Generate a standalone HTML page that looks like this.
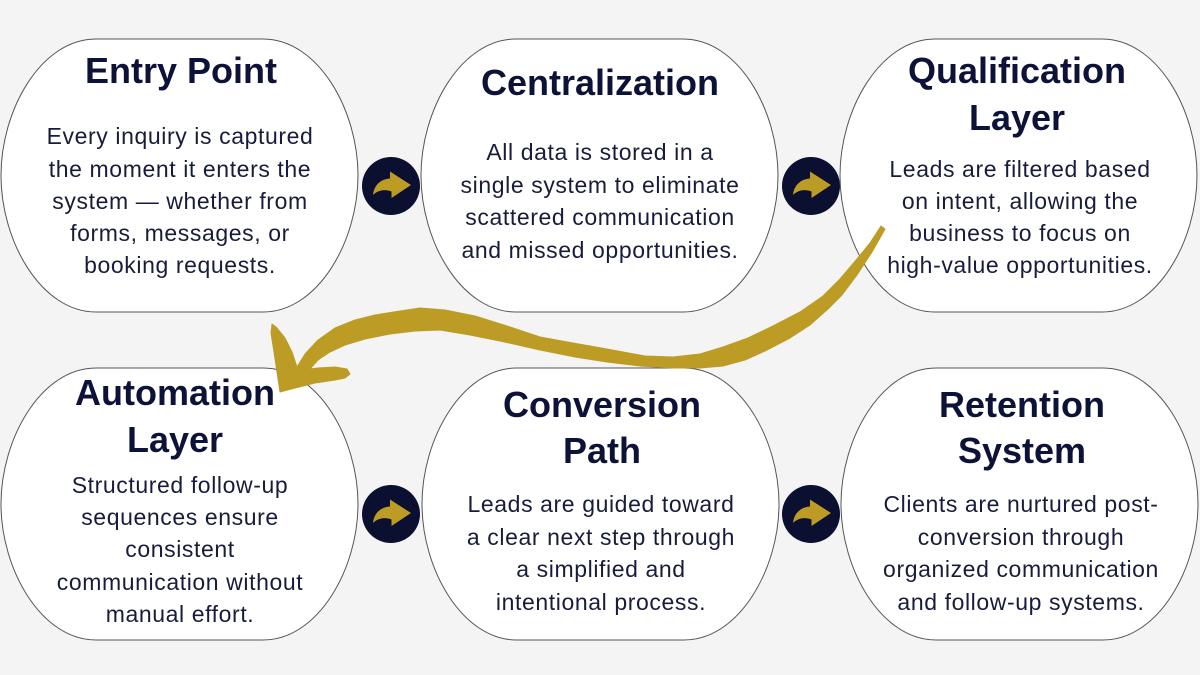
<!DOCTYPE html>
<html>
<head>
<meta charset="utf-8">
<style>
  html, body { margin: 0; padding: 0; background: #f4f4f4; }
  body { width: 1200px; height: 675px; overflow: hidden; }
  svg { display: block; }
  .t { font-family: "Liberation Sans", "DejaVu Sans", sans-serif; font-weight: 700; font-size: 36px; fill: #0d1238; }
  .b { font-family: "Liberation Sans", "DejaVu Sans", sans-serif; font-weight: 400; font-size: 23px; letter-spacing: 0.6px; fill: #181c3c; }
</style>
</head>
<body>
<svg width="1200" height="675" viewBox="0 0 1200 675" xmlns="http://www.w3.org/2000/svg">
  <rect x="0" y="0" width="1200" height="675" fill="#f4f4f4"/>

  <!-- cards -->
  <g fill="#ffffff" stroke="#555555" stroke-width="1">
    <path transform="translate(1,39)" d="M95,0 L262,0 C317,0 357,71 357,136.5 C357,202 317,273 262,273 L95,273 C40,273 0,202 0,136.5 C0,71 40,0 95,0 Z"/>
    <path transform="translate(421,39)" d="M95,0 L262,0 C317,0 357,71 357,136.5 C357,202 317,273 262,273 L95,273 C40,273 0,202 0,136.5 C0,71 40,0 95,0 Z"/>
    <path transform="translate(840,39)" d="M95,0 L262,0 C317,0 357,71 357,136.5 C357,202 317,273 262,273 L95,273 C40,273 0,202 0,136.5 C0,71 40,0 95,0 Z"/>
    <path transform="translate(1,368)" d="M95,0 L262,0 C317,0 357,71 357,136 C357,201 317,272 262,272 L95,272 C40,272 0,201 0,136 C0,71 40,0 95,0 Z"/>
    <path transform="translate(422,368)" d="M95,0 L262,0 C317,0 357,71 357,136 C357,201 317,272 262,272 L95,272 C40,272 0,201 0,136 C0,71 40,0 95,0 Z"/>
    <path transform="translate(841,368)" d="M95,0 L262,0 C317,0 357,71 357,136 C357,201 317,272 262,272 L95,272 C40,272 0,201 0,136 C0,71 40,0 95,0 Z"/>
  </g>

  <!-- connector circles -->
  <g>
    <g transform="translate(391,186)">
      <circle r="29" fill="#0b0f30"/>
      <path d="M20 -1 L-1 -14.5 L-1 -7.5 C-10 -7 -17 -1 -18 9 C-13 4 -6 3 0.5 5.5 L0.5 12 Z" fill="#bd9c26"/>
    </g>
    <g transform="translate(811,186)">
      <circle r="29" fill="#0b0f30"/>
      <path d="M20 -1 L-1 -14.5 L-1 -7.5 C-10 -7 -17 -1 -18 9 C-13 4 -6 3 0.5 5.5 L0.5 12 Z" fill="#bd9c26"/>
    </g>
    <g transform="translate(391,514)">
      <circle r="29" fill="#0b0f30"/>
      <path d="M20 -1 L-1 -14.5 L-1 -7.5 C-10 -7 -17 -1 -18 9 C-13 4 -6 3 0.5 5.5 L0.5 12 Z" fill="#bd9c26"/>
    </g>
    <g transform="translate(811,514)">
      <circle r="29" fill="#0b0f30"/>
      <path d="M20 -1 L-1 -14.5 L-1 -7.5 C-10 -7 -17 -1 -18 9 C-13 4 -6 3 0.5 5.5 L0.5 12 Z" fill="#bd9c26"/>
    </g>
  </g>

  <g text-anchor="middle">
    <!-- card 1 -->
    <text class="t" x="181" y="83">Entry Point</text>
    <text class="b" x="180" y="144">Every inquiry is captured</text>
    <text class="b" x="180" y="177">the moment it enters the</text>
    <text class="b" x="180" y="209">system — whether from</text>
    <text class="b" x="180" y="241">forms, messages, or</text>
    <text class="b" x="180" y="273">booking requests.</text>

    <!-- card 2 -->
    <text class="t" x="600" y="95">Centralization</text>
    <text class="b" x="600" y="160">All data is stored in a</text>
    <text class="b" x="600" y="193">single system to eliminate</text>
    <text class="b" x="600" y="225">scattered communication</text>
    <text class="b" x="600" y="258">and missed opportunities.</text>

    <!-- card 3 -->
    <text class="t" x="1017" y="83">Qualification</text>
    <text class="t" x="1017" y="130">Layer</text>
    <text class="b" x="1020" y="177">Leads are filtered based</text>
    <text class="b" x="1020" y="209">on intent, allowing the</text>
    <text class="b" x="1020" y="241">business to focus on</text>
    <text class="b" x="1020" y="273">high-value opportunities.</text>

    <!-- card 4 -->
    <text class="t" x="175" y="405">Automation</text>
    <text class="t" x="175" y="452">Layer</text>
    <text class="b" x="180" y="493">Structured follow-up</text>
    <text class="b" x="180" y="525">sequences ensure</text>
    <text class="b" x="180" y="557">consistent</text>
    <text class="b" x="180" y="590">communication without</text>
    <text class="b" x="180" y="622">manual effort.</text>

    <!-- card 5 -->
    <text class="t" x="602" y="417">Conversion</text>
    <text class="t" x="602" y="463">Path</text>
    <text class="b" x="601" y="512">Leads are guided toward</text>
    <text class="b" x="601" y="545">a clear next step through</text>
    <text class="b" x="601" y="577">a simplified and</text>
    <text class="b" x="601" y="610">intentional process.</text>

    <!-- card 6 -->
    <text class="t" x="1022" y="417">Retention</text>
    <text class="t" x="1022" y="463">System</text>
    <text class="b" x="1021" y="512">Clients are nurtured post-</text>
    <text class="b" x="1021" y="545">conversion through</text>
    <text class="b" x="1021" y="577">organized communication</text>
    <text class="b" x="1021" y="610">and follow-up systems.</text>
  </g>

  <!-- big gold swoosh arrow -->
  <path fill="#bd9c26" stroke="#bd9c26" stroke-width="1" stroke-linejoin="round" d="
    M881,226
    L870,243 L857,259 L840,279 L823,296 L800,312 L773,326 L748,338 L723,347 L700,354
    L673,357 L645,356 L607,349 L573,343 L540,337 L507,326 L475,316 L445,310 L420,308
    L400,311 L375,315 L355,320 L335,328 L318,340 L305,354 L297,367
    L292,352 L285,338 L276,327 L272,324
    L271,333 L274,352 L277,372 L280,392
    L295,388 L315,383 L335,380 L345,378 L350,374 L347,369
    L335,367 L318,368 L310,369
    L318,360 L330,352 L345,345 L365,339 L390,334 L415,331 L440,330 L470,335 L500,341
    L540,350 L575,357 L607,362 L640,366 L673,368 L700,368 L723,366 L745,360 L765,351
    L790,338 L810,325 L828,309 L842,295 L857,275 L872,252 L880,238 L885,229 Z"/>
</svg>
</body>
</html>
